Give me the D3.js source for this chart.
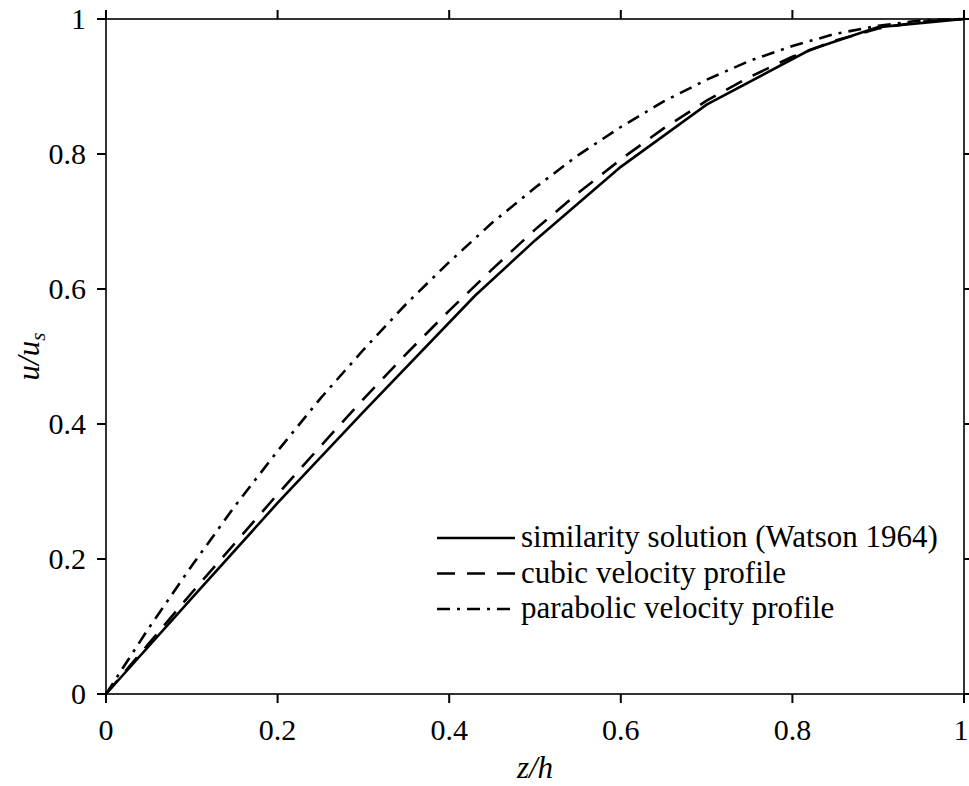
<html>
    <head>
        <script src="https://d3js.org/d3.v7.min.js"></script>
    </head>
    <body style="margin:0">

        <script>

            // x positions (z/h) for the two model profiles
            var zModel = [0, 0.05, 0.1, 0.15, 0.2, 0.25, 0.3, 0.35, 0.4, 0.45, 0.5,
                          0.55, 0.6, 0.65, 0.7, 0.75, 0.8, 0.85, 0.9, 0.95, 1];
            var cubicU = [0, 0.075, 0.150, 0.223, 0.296, 0.367, 0.437, 0.504, 0.568, 0.629, 0.688,
                          0.742, 0.792, 0.838, 0.879, 0.914, 0.944, 0.968, 0.986, 0.996, 1];
            var parabolicU = [0, 0.098, 0.190, 0.278, 0.360, 0.438, 0.510, 0.578, 0.640, 0.698, 0.750,
                              0.798, 0.840, 0.878, 0.910, 0.938, 0.960, 0.978, 0.990, 0.998, 1];

            // similarity solution
            var zWatson = [0, 0.1, 0.2, 0.3, 0.43, 0.5, 0.6, 0.7, 0.82, 0.9, 1];
            var watsonU = [0, 0.142, 0.283, 0.418, 0.590, 0.672, 0.781, 0.873, 0.954, 0.988, 1];

            var ticks = [0, 0.2, 0.4, 0.6, 0.8, 1];
            var legendLabels = ["similarity solution (Watson 1964)", "cubic velocity profile", "parabolic velocity profile"];
            var dashes = [null, "18,12", "13,7,3,7"];

            var serif = "Liberation Serif";

            var margin = {top: 19, right: 5, bottom: 92, left: 106};
            var width = 969 - margin.left - margin.right;   // 858
            var height = 786 - margin.top - margin.bottom;  // 675

            var root = d3.select("body").append("svg")
                        .attr("width", 969)
                        .attr("height", 786);
            var svg = root.append("g")
                        .attr("transform", "translate(" + margin.left + "," + margin.top + ")");

            var x = d3.scaleLinear().domain([0, 1]).range([0, width]);
            var y = d3.scaleLinear().domain([0, 1]).range([height, 0]);

            var fmt = function(d) { return d === 0 || d === 1 ? String(d) : d3.format(".1f")(d); };

            // ticks on all four sides, pointing outside
            svg.selectAll(".xt").data(ticks).enter().append("line")
                .attr("x1", x).attr("x2", x).attr("y1", height).attr("y2", height + 9)
                .attr("stroke", "#000").attr("stroke-width", 2);
            svg.selectAll(".xtt").data(ticks).enter().append("line")
                .attr("x1", x).attr("x2", x).attr("y1", 0).attr("y2", -9)
                .attr("stroke", "#000").attr("stroke-width", 2);
            svg.selectAll(".yt").data(ticks).enter().append("line")
                .attr("y1", y).attr("y2", y).attr("x1", 0).attr("x2", -9)
                .attr("stroke", "#000").attr("stroke-width", 2);
            svg.selectAll(".ytr").data(ticks).enter().append("line")
                .attr("y1", y).attr("y2", y).attr("x1", width).attr("x2", width + 9)
                .attr("stroke", "#000").attr("stroke-width", 2);

            // tick labels (last x label nudged so it stays inside the page)
            root.selectAll(".xl").data(ticks).enter().append("text")
                .attr("x", function(d) { return margin.left + x(d) - (d === 1 ? 3 : 0); })
                .attr("y", margin.top + height + 46)
                .attr("text-anchor", "middle")
                .attr("font-family", serif)
                .attr("font-size", 30)
                .text(fmt);
            root.selectAll(".yl").data(ticks).enter().append("text")
                .attr("x", margin.left - 20)
                .attr("y", function(d) { return margin.top + y(d) + 10; })
                .attr("text-anchor", "end")
                .attr("font-family", serif)
                .attr("font-size", 30)
                .text(fmt);

            // frame
            svg.append("rect")
                .attr("width", width)
                .attr("height", height)
                .attr("fill", "none")
                .attr("stroke", "#000")
                .attr("stroke-width", 1.6);

            var line = d3.line()
                .x(function(d) { return x(d[0]); })
                .y(function(d) { return y(d[1]); });

            var series = [
                d3.zip(zWatson, watsonU),
                d3.zip(zModel, cubicU),
                d3.zip(zModel, parabolicU)
            ];

            series.forEach(function(s, i) {
                svg.append("path")
                    .datum(s)
                    .attr("fill", "none")
                    .attr("stroke", "#000")
                    .attr("stroke-width", 2.6)
                    .attr("stroke-dasharray", dashes[i])
                    .attr("d", line);
            });

            // legend
            legendLabels.forEach(function(t, i) {
                var ly = margin.top + 519 + i * 35.5;
                root.append("line")
                    .attr("x1", margin.left + 331).attr("x2", margin.left + 409)
                    .attr("y1", ly).attr("y2", ly)
                    .attr("stroke", "#000")
                    .attr("stroke-width", 2.6)
                    .attr("stroke-dasharray", dashes[i]);
                root.append("text")
                    .attr("x", margin.left + 415)
                    .attr("y", ly + 9)
                    .attr("font-family", serif)
                    .attr("font-size", 31)
                    .text(t);
            });

            // axis titles
            root.append("text")
                .attr("x", margin.left + width / 2)
                .attr("y", margin.top + height + 84)
                .attr("text-anchor", "middle")
                .attr("font-family", serif)
                .attr("font-size", 31)
                .attr("font-style", "italic")
                .text("z/h");

            var yt = root.append("text")
                .attr("transform", "translate(39," + (margin.top + height / 2) + ") rotate(-90)")
                .attr("text-anchor", "middle")
                .attr("font-family", serif)
                .attr("font-size", 31)
                .attr("font-style", "italic");
            yt.append("tspan").text("u/u");
            yt.append("tspan").attr("dy", 6).attr("font-size", 21).text("s");

        </script>
    </body>
</html>
